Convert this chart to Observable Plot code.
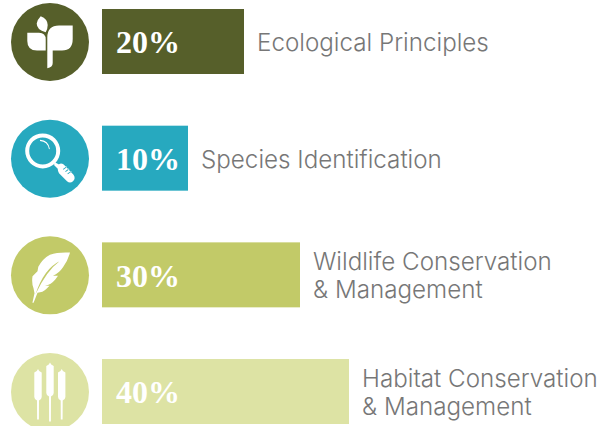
<!DOCTYPE html>
<html>
<head>
<meta charset="utf-8">
<style>html,body{margin:0;padding:0;background:#fff;overflow:hidden}svg{display:block}</style>
<script src="https://cdn.jsdelivr.net/npm/d3@7"></script>
<script src="https://cdn.jsdelivr.net/npm/@observablehq/plot@0.6"></script>
</head>
<body>
<div id="chart"></div>
<script>
const categories = ["Ecological Principles", "Species Identification", "Wildlife Conservation\n& Management", "Habitat Conservation\n& Management"];
const shares = [20, 10, 30, 40];
const palette = ["#565f2a", "#27a9bf", "#c2ca68", "#dde3a4"];
const rows = categories.map((name, i) => ({name, share: shares[i], pct: shares[i] + "%"}));

// Icon glyphs are drawn relative to the badge centre, in px for a badge of radius 39.
function icon(paint) {
  return {draw(ctx, size) {
    const k = Math.sqrt(size / Math.PI) / 39;
    const poly = (pts) => { pts.forEach((p, i) => i ? ctx.lineTo(p[0]*k, p[1]*k) : ctx.moveTo(p[0]*k, p[1]*k)); ctx.closePath(); };
    const M = (x, y) => ctx.moveTo(x*k, y*k);
    const L = (x, y) => ctx.lineTo(x*k, y*k);
    const Q = (a, b, x, y) => ctx.quadraticCurveTo(a*k, b*k, x*k, y*k);
    const Z = () => ctx.closePath();
    paint({ctx, k, poly, M, L, Q, Z});
  }};
}
const sprout = icon(({M, L, Q, Z}) => {
  M(-9.3,-25.8); Q(-2.3,-23,-2.3,-17); Q(-2.3,-13,-4.3,-9.8); Q(-13.3,-12,-13.3,-18.5); Q(-13,-22,-9.3,-25.8); Z();
  M(-22.7,-9.2); L(-11,-9.2); Q(-4.3,-9.2,-4.3,-2.5); L(-4.3,8.5); L(-13,8.5); Q(-22.7,8.5,-22.7,-1); Z();
  M(22.7,-16.5); L(9,-16.5); Q(-2.7,-16.5,-2.7,-4.5); L(-2.7,26.2); Q(2.7,25.5,2.7,21); L(2.7,8.5); L(12,8.5); Q(22.7,8.5,22.7,-3); Z();
});
const lens = icon(({ctx, k, poly, M, Q, L, Z}) => {
  const cx = -7.3*k, cy = -7.8*k;
  ctx.moveTo(cx + 17.5*k, cy); ctx.arc(cx, cy, 17.5*k, 0, 2*Math.PI, false); Z();
  ctx.moveTo(cx + 13.5*k, cy); ctx.arc(cx, cy, 13.5*k, 0, 2*Math.PI, true); Z();
  // glint
  M(-10,-17.8); Q(-2.5,-17.5,-1,-9.5); L(-.1,-9.7); Q(-1.5,-18.5,-10,-19); Z();
  // neck and grip
  poly([[5.2,3.8],[10.5,6.5],[8.5,10.8],[4,6.2]]);
  M(9,5.5); Q(12,3.8,15,7); L(23.5,16); Q(26,19.5,23,22.5); Q(20,25,17,22.5); L(9,14.5); Q(6.5,10,9,5.5); Z();
  // slits in the grip
  poly([[13.5,11],[17,8.4],[16.4,7.7],[13,10.3]]);
  poly([[15.7,13.2],[19.4,10.6],[18.8,9.9],[15.2,12.5]]);
  poly([[17.9,15.5],[21.6,12.9],[21,12.2],[17.4,14.8]]);
});
const feather = icon(({M, L, Q, Z}) => {
  M(20,-22.8); Q(8,-23.5,0,-20.5); Q(-7,-17,-11.7,-8.5); L(-12.5,-4); L(-17.5,1); Q(-18.5,8,-16.5,13); L(-15.5,18);
  L(-17.6,27.3); L(-16.4,27.3); L(-12.5,17.5); Q(-7,17,-4,14); L(-.5,10.5); L(-5,10.5); Q(1,9.5,5.5,4); L(8,.5); L(3,.5); Q(9,-2,13,-8); Q(18,-15,20,-22.8); Z();
  // slit along the rachis, wound against the outline so it stays open
  M(-14.5,19); Q(-6,-6.5,9.5,-14); Q(-3.5,-4.5,-14.5,19); Z();
});
const reeds = icon(({M, Q, L, Z}) => {
  const stalk = (c, w, tip, top, bot, end) => {
    M(c, tip); Q(c + .6, top, c + w, top + 1.5);
    L(c + w, bot - 2); Q(c + w, bot, c + 1, bot + 1.5); L(c + .9, end); L(c - .9, end); L(c - 1, bot + 1.5);
    Q(c - w, bot, c - w, bot - 2); L(c - w, top + 1.5); Q(c - .6, top, c, tip); Z();
  };
  stalk(-12, 3.7, -23, -21, 7, 27.5);
  stalk(0, 3.7, -29.5, -27.5, 3, 29.5);
  stalk(11.7, 3.7, -23, -21, 7, 27.5);
});
const icons = [sprout, lens, feather, reeds];

const labelFont = "Inter, Liberation Sans, sans-serif";
const valueFont = "Liberation Serif, serif";

const svg = Plot.plot({
  width: 601,
  height: 426,
  margin: 0,
  x: {type: "linear", domain: [0, 10, 20, 30, 40], range: [102, 188, 244, 300, 349], axis: null},
  y: {type: "band", domain: categories, range: [-42.67, 475.7], padding: 0.443, round: false, axis: null},
  color: {type: "ordinal", domain: categories, range: palette},
  marks: [
    Plot.dot(rows, {frameAnchor: "left", dx: 49.5, y: "name", r: 39, fill: "name", stroke: null}),
    ...rows.map((row, i) => Plot.dot([row], {frameAnchor: "left", dx: 49.5, y: "name", r: 39, symbol: icons[i], fill: "#fff", stroke: null})),
    Plot.barX(rows, {x: "share", y: "name", fill: "name"}),
    Plot.text(rows, {x: 0, y: "name", text: "pct", dx: 13.5, dy: 1, textAnchor: "start", fill: "#fff", fontFamily: valueFont, fontWeight: 700, fontSize: 32}),
    Plot.text(rows, {x: "share", y: "name", text: "name", dx: 12.5, textAnchor: "start", fill: "#777", fontFamily: labelFont, fontWeight: 300, fontSize: 24.2, lineHeight: 28 / 24.2})
  ]
});
document.getElementById("chart").append(svg);
</script>
</body>
</html>
